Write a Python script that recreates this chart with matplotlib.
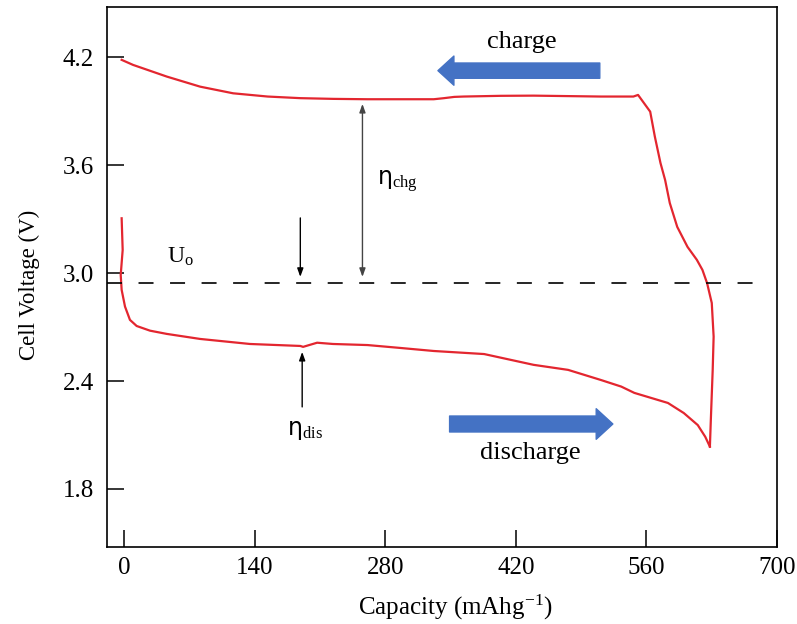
import matplotlib
matplotlib.use("Agg")
import matplotlib.pyplot as plt
from matplotlib.ticker import FormatStrFormatter

plt.rcParams['font.family'] = ['Liberation Serif', 'DejaVu Serif']
plt.rcParams['mathtext.fontset'] = 'custom'
plt.rcParams['mathtext.rm'] = 'Liberation Serif'
plt.rcParams['mathtext.it'] = 'Liberation Serif:italic'
plt.rcParams['lines.scale_dashes'] = False

# discharge branch (capacity in mAh/g, voltage in V)
dis_cap = [-2.5, -1.4, -3.5, -2.5, 1.1, 6.4, 13.6, 27.9, 45.9, 81.6, 135, 189, 192,
           207, 224, 261, 296, 332, 386, 439, 476, 511, 533, 547, 565, 583, 600,
           615, 623, 628]
dis_v = [3.305, 3.129, 2.99, 2.907, 2.814, 2.74, 2.706, 2.68, 2.662, 2.634, 2.606,
         2.595, 2.59, 2.613, 2.606, 2.60, 2.584, 2.567, 2.55, 2.49, 2.462, 2.406,
         2.369, 2.334, 2.306, 2.278, 2.222, 2.155, 2.09, 2.035]

# charge branch, from the end of discharge back to zero capacity
chg_cap = [628, 629, 631, 632, 630, 625, 620, 614, 604, 593, 585, 580, 575, 569, 564,
           551, 546, 511, 439, 404, 364, 354, 343, 332, 261, 224.5, 189, 154, 117,
           81.6, 45.9, 9.7, -2.5]
chg_v = [2.035, 2.184, 2.462, 2.647, 2.834, 2.944, 3.018, 3.074, 3.146, 3.257, 3.39,
         3.518, 3.613, 3.759, 3.898, 3.991, 3.982, 3.982, 3.987, 3.986, 3.982, 3.98,
         3.973, 3.967, 3.967, 3.969, 3.973, 3.982, 4.0, 4.037, 4.093, 4.158, 4.186]

U0 = 2.944
x_ticks = [0, 140, 280, 420, 560, 700]
y_ticks = [1.8, 2.4, 3.0, 3.6, 4.2]

red = '#e3262f'
blue = '#4472c4'

fig = plt.figure(figsize=(7.97, 6.24), dpi=100)
ax = fig.add_axes([0.1339, 0.1234, 0.975 - 0.1339, 0.9888 - 0.1234])

ax.plot(dis_cap, dis_v, color=red, lw=1.6, solid_joinstyle='round')
ax.plot(chg_cap, chg_v, color=red, lw=1.6, solid_joinstyle='round')

# open circuit level
ax.axhline(U0, xmax=0.979, color='black', lw=1.2, dashes=(10.8, 11.9))

ax.set_xlim(-18.5, 700)
ax.set_ylim(1.477, 4.48)
ax.set_xticks(x_ticks)
ax.set_yticks(y_ticks)
ax.yaxis.set_major_formatter(FormatStrFormatter('%.1f'))
ax.tick_params(direction='in', length=12, width=1.1, labelsize=18, colors='black')
ax.tick_params(axis='x', pad=7)
ax.tick_params(axis='y', pad=9)
for s in ax.spines.values():
    s.set_linewidth(1.2)

ax.set_xlabel('Capacity (mAhg$^{\\mathrm{-1}}$)', fontsize=18)
ax.xaxis.set_label_coords(0.52, -0.085)
ax.set_ylabel('Cell Voltage (V)', fontsize=16.5)
ax.yaxis.set_label_coords(-0.10, 0.485)

# block arrows for direction of the sweep
ax.annotate('', xy=(336.5, 4.126), xytext=(510, 4.126),
            arrowprops=dict(arrowstyle='simple,head_length=1.15,head_width=2.1,tail_width=1.1',
                            color=blue, mutation_scale=10, shrinkA=0, shrinkB=0))
ax.annotate('', xy=(524, 2.161), xytext=(349, 2.161),
            arrowprops=dict(arrowstyle='simple,head_length=1.2,head_width=2.2,tail_width=1.15',
                            color=blue, mutation_scale=10, shrinkA=0, shrinkB=0))
ax.text(426.6, 4.286, 'charge', fontsize=19, ha='center', va='center')
ax.text(435, 2.0, 'discharge', fontsize=19, ha='center', va='center')

# overpotential markers
ax.annotate('', xy=(255.6, 2.979), xytext=(255.6, 3.941),
            arrowprops=dict(arrowstyle='<|-|>,head_length=0.5,head_width=0.18',
                            color='#444444', lw=1.0, shrinkA=0, shrinkB=0))
ax.annotate('', xy=(189, 2.979), xytext=(189, 3.307),
            arrowprops=dict(arrowstyle='-|>,head_length=0.5,head_width=0.18',
                            color='black', lw=1.0, shrinkA=0, shrinkB=0))
ax.annotate('', xy=(191, 2.562), xytext=(191, 2.256),
            arrowprops=dict(arrowstyle='-|>,head_length=0.5,head_width=0.18',
                            color='black', lw=1.0, shrinkA=0, shrinkB=0))

ax.text(271, 3.51, 'η$_{\\mathrm{chg}}$', fontsize=17, ha='left', va='center',
        family=['DejaVu Sans'])
ax.text(174.7, 2.13, 'η$_{\\mathrm{dis}}$', fontsize=17, ha='left', va='center',
        family=['DejaVu Sans'])
ax.text(45.8, 3.09, 'U$_{\\mathrm{o}}$', fontsize=17, ha='left', va='center')

fig.savefig('out.png', dpi=100)
plt.close(fig)
